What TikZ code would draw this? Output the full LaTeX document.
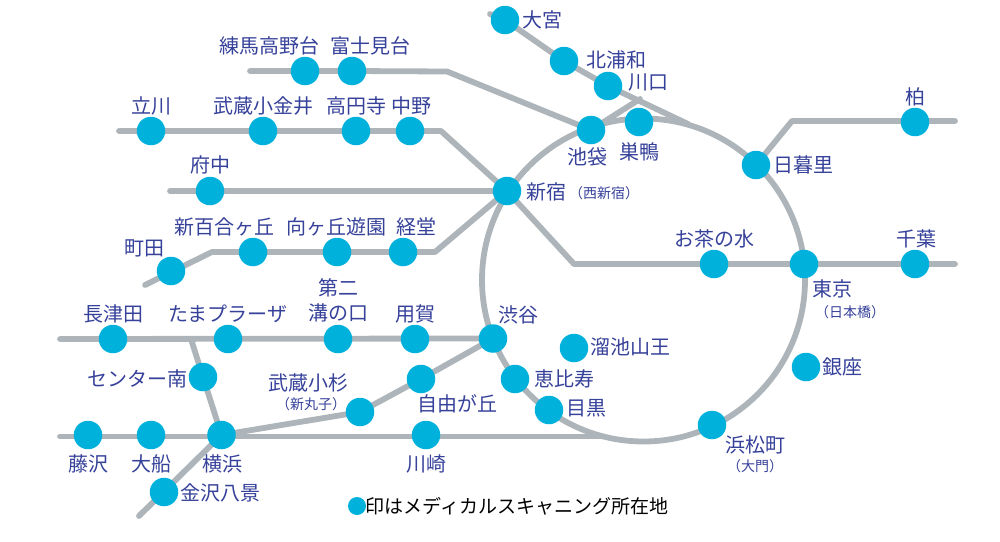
\documentclass[tikz,border=0pt]{standalone}
\usepackage{fontspec}
\setmainfont{Noto Sans CJK JP}
\usetikzlibrary{backgrounds}
\definecolor{railgray}{HTML}{ADB5BA}
\definecolor{stationblue}{HTML}{00B1DC}
\definecolor{labelblue}{HTML}{36419A}
\tikzset{
  x=1pt,y=-1pt,
  station/.style={circle,fill=stationblue,draw=none,minimum size=28.5pt,inner sep=0pt},
  legenddot/.style={circle,fill=stationblue,draw=none,minimum size=18pt,inner sep=0pt},
  rail/.style={draw=railgray,line width=5.8pt,line cap=round,line join=round},
  lab/.style={text=labelblue,inner sep=0pt,font=\fontsize{20}{21}\selectfont},
  sublab/.style={text=labelblue,inner sep=0pt,font=\fontsize{14}{16}\selectfont},
  leg/.style={text=black,inner sep=0pt,font=\fontsize{19}{20}\selectfont},
}
\begin{document}
\begin{tikzpicture}
\useasboundingbox (0,0) rectangle (1000,541);
% stations
\foreach \n/\x/\y in {omiya/505/20,kitaurawa/564/61,kawaguchi/608/86,ikebukuro/591/130,sugamo/639/122,
 nippori/756/165,kashiwa/915/122,nerima/305/71,fujimi/352/71,tachikawa/151/131,musashikoganei/263/131,
 koenji/356/131,nakano/410/131,fuchu/210/191,shinjuku/507/191,shinyuri/253/252,mukogaoka/337/252,
 kyodo/403/252,machida/171/271,ochanomizu/714/264,tokyo/804/264,chiba/915/264,nagatsuta/113/339,
 tamaplaza/228/339,mizonokuchi/338/339,yoga/415/339,shibuya/493/338.5,tameike/574/348,ginza/806/367,
 centerminami/203/377,ebisu/515/379,kosugi/360/412,jiyugaoka/421/379,meguro/549/410,hamamatsucho/712/425,
 fujisawa/88/435,ofuna/151/435,yokohama/221.5/435,kawasaki/426/435,kanazawa/164/492}
 {\node[station] (\n) at (\x,\y) {};}
\node[legenddot] (legdot) at (357,506) {};
% free ends and bends
\foreach \n/\x/\y in {omiyaend/490/14,omiyajoin/688/124,ikeup/640/99,nerimaend/250/71,nerimabend/447/71.5,
 tachiend/119/131,tachibend/441/131,fuchuend/170/191,machidaend/145/285,machidabend/212/252,kyodobend/435/252,
 ochabend/574/264,chibaend/955/264,kashibend/792/121,kashiend/955/121,nagaend/60/339,centertop/191/339,
 fujiend/60/436.5,fujijoin/600/436.5,kanaend/139/516,loopc/643.5/280}
 {\coordinate (\n) at (\x,\y);}
\begin{scope}[on background layer]
\draw[rail] (loopc) circle[radius=161.5];
\draw[rail] (omiyaend) -- (omiya.center) -- (kitaurawa.center) -- (kawaguchi.center) -- (omiyajoin);
\draw[rail] (ikebukuro.center) -- (ikeup);
\draw[rail] (nerimaend) -- (nerima.center) -- (fujimi.center) -- (nerimabend) -- (ikebukuro.center);
\draw[rail] (tachiend) -- (tachibend) -- (shinjuku.center);
\draw[rail] (fuchuend) -- (shinjuku.center);
\draw[rail] (machidaend) -- (machidabend) -- (kyodobend) -- (shinjuku.center);
\draw[rail] (shinjuku.center) -- (ochabend) -- (chibaend);
\draw[rail] (nippori.center) -- (kashibend) -- (kashiend);
\draw[rail] (nagaend) -- (shibuya.center);
\draw[rail] (centertop) -- (centerminami.center) -- (yokohama.center);
\draw[rail] (fujiend) -- (fujijoin);
\draw[rail] (shibuya.center) -- (jiyugaoka.center) -- (kosugi.center) -- (yokohama.center);
\draw[rail] (yokohama.center) -- (kanaend);
\end{scope}
% labels
\foreach \n/\x/\y/\t in {l1/542/20/大宮,l2/616/60/北浦和,l3/648/82/川口,l4/915/97/柏,l5/269/46/練馬高野台,
 l6/370/46/富士見台,l7/151/106/立川,l8/263/106/武蔵小金井,l9/356/106/高円寺,l10/411/106/中野,l11/210/165/府中,
 l12/587/157/池袋,l13/639/152/巣鴨,l14/546/192/新宿,l15/803/165/日暮里,l16/224/227/新百合ヶ丘,
 l17/336/227/向ヶ丘遊園,l18/416/227/経堂,l19/144/248/町田,l20/714/239/お茶の水,l21/916/239/千葉,
 l22/832/289/東京,l23/338/288/第二,l24/338/313/溝の口,l25/113/314/長津田,l26/228/314/たまプラーザ,
 l27/415/314/用賀,l28/518/315/渋谷,l29/630/347/溜池山王,l30/842/367/銀座,l31/137/379/センター南,
 l32/564/379/恵比寿,l33/308/383/武蔵小杉,l34/586/408/目黒,l35/457/404/自由が丘,l36/755/445/浜松町,
 l37/88/464/藤沢,l38/151/464/大船,l39/222/464/横浜,l40/426/464/川崎,l41/220/493/金沢八景}
 {\node[lab] (\n) at (\x,\y) {\t};}
\foreach \n/\x/\y/\t in {s1/604/193/（西新宿）,s2/850/312/（日本橋）,s3/311/404/（新丸子）,s4/755/466/（大門）}
 {\node[sublab] (\n) at (\x,\y) {\t};}
\node[leg] (legtext) at (517,506) {印はメディカルスキャニング所在地};
\end{tikzpicture}
\end{document}
